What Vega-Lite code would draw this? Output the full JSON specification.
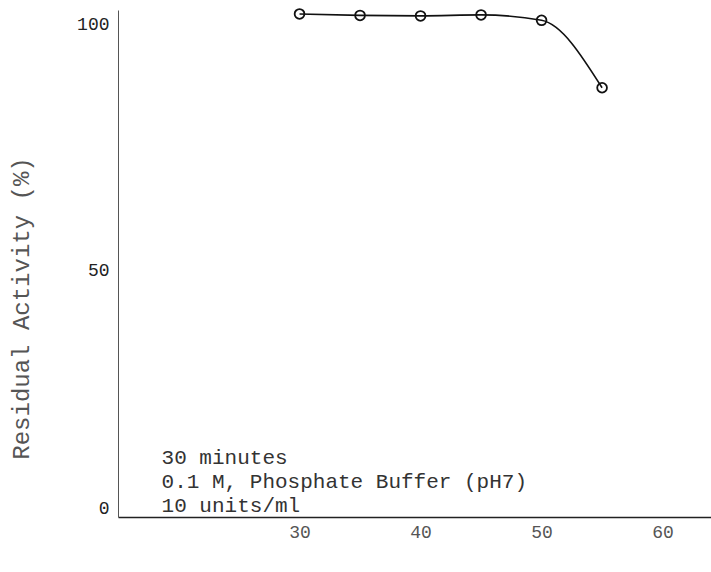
{
  "$schema": "https://vega.github.io/schema/vega-lite/v6.json",
  "width": 593,
  "height": 507,
  "autosize": {"type": "none"},
  "padding": {"left": 118, "top": 10, "right": 0, "bottom": 55},
  "background": "white",
  "config": {"view": {"stroke": null}},
  "datasets": {
    "pts": [
      {"temp": 30, "activity": 102.2},
      {"temp": 35, "activity": 101.9},
      {"temp": 40, "activity": 101.8},
      {"temp": 45, "activity": 102.0},
      {"temp": 50, "activity": 100.9},
      {"temp": 55, "activity": 87.2}
    ],
    "notes": [
      {"tx": 18.6, "ty": 12.0, "label": "30 minutes"},
      {"tx": 18.6, "ty": 7.1, "label": "0.1 M, Phosphate Buffer (pH7)"},
      {"tx": 18.6, "ty": 2.2, "label": "10 units/ml"}
    ]
  },
  "layer": [
    {
      "data": {"name": "pts"},
      "mark": {"type": "line", "interpolate": "monotone", "color": "#111", "strokeWidth": 1.6},
      "encoding": {
        "x": {
          "field": "temp", "type": "quantitative",
          "scale": {"domain": [15, 64], "nice": false, "zero": false},
          "axis": {
            "values": [30, 40, 50, 60], "title": null, "ticks": false, "grid": false,
            "domainColor": "#222", "domainWidth": 1.5,
            "labelFont": "Liberation Mono", "labelFontSize": 18, "labelColor": "#555",
            "labelPadding": 6
          }
        },
        "y": {
          "field": "activity", "type": "quantitative",
          "scale": {"domain": [0, 103], "nice": false},
          "axis": {
            "values": [0, 50, 100], "ticks": false, "grid": false,
            "domainColor": "#555", "domainWidth": 1,
            "labelFont": "Liberation Mono", "labelFontSize": 18, "labelColor": "#222",
            "labelPadding": 9,
            "labelBaseline": {"expr": "datum.value == 0 ? 'bottom' : 'middle'"},
            "title": "Residual Activity (%)",
            "titleFont": "Liberation Mono", "titleFontSize": 24, "titleFontWeight": "normal",
            "titleColor": "#555", "titleX": -85, "titleY": 298
          }
        }
      }
    },
    {
      "data": {"name": "pts"},
      "mark": {"type": "point", "shape": "circle", "filled": false, "color": "#111", "strokeWidth": 1.8, "size": 95, "opacity": 1},
      "encoding": {
        "x": {"field": "temp", "type": "quantitative"},
        "y": {"field": "activity", "type": "quantitative"}
      }
    },
    {
      "data": {"name": "notes"},
      "mark": {"type": "text", "align": "left", "baseline": "middle", "font": "Liberation Mono", "fontSize": 21, "color": "#333"},
      "encoding": {
        "x": {"field": "tx", "type": "quantitative"},
        "y": {"field": "ty", "type": "quantitative"},
        "text": {"field": "label"}
      }
    }
  ]
}
